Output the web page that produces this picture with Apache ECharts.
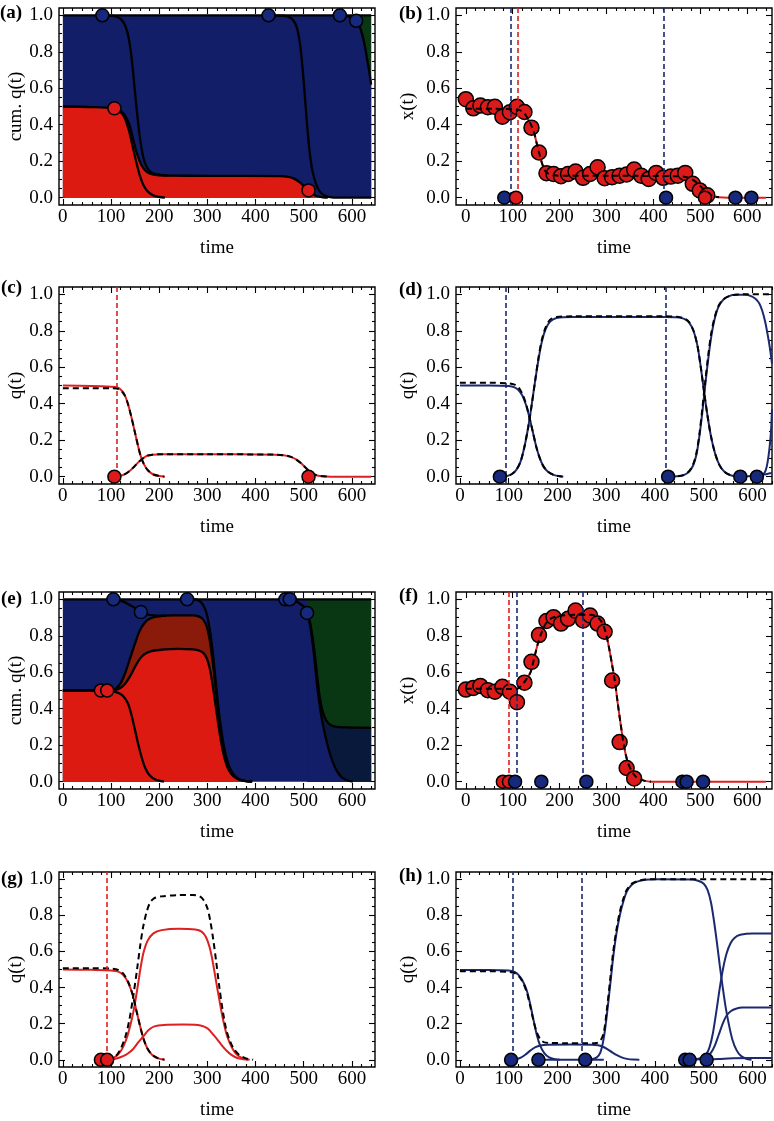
<!DOCTYPE html>
<html><head><meta charset="utf-8">
<script src="https://cdn.jsdelivr.net/npm/echarts@6/dist/echarts.min.js"></script>
<style>html,body{margin:0;padding:0;background:#fff}#c{width:774px;height:1121px}</style>
</head><body><div id="c"></div><script>
// ---------------- tick labels ----------------
const xTicks = [0,100,200,300,400,500,600];
const xMinor = [20,40,60,80,120,140,160,180,220,240,260,280,320,340,360,380,420,440,460,480,520,540,560,580,620,640];
const yTicks = [0,0.2,0.4,0.6,0.8,1.0];
const yMinor = [0.05,0.1,0.15,0.25,0.3,0.35,0.45,0.5,0.55,0.65,0.7,0.75,0.85,0.9,0.95];

// ---------------- scenario 1 (a-d) ----------------
const aTop = [[0,1],[640,1]];
const aRedTop = [[0,0.5],[60,0.497],[106,0.49],[118,0.478],[128,0.455],[138,0.4],[146,0.32],[154,0.24],[162,0.185],[170,0.152],[180,0.133],[195,0.124],[220,0.121],[300,0.12],[450,0.118],[468,0.114],[482,0.102],[492,0.084],[501,0.062],[510,0.04],[519,0.02],[528,0.008],[540,0.002],[550,0]];
const aR1 = [[106,0.49],[118,0.475],[128,0.44],[137,0.37],[145,0.28],[152,0.2],[160,0.12],[168,0.065],[177,0.032],[190,0.01],[212,0]];
const aB1 = [[82,1],[100,0.998],[112,0.992],[122,0.975],[130,0.94],[137,0.87],[143,0.76],[149,0.6],[155,0.44],[161,0.31],[168,0.21],[176,0.16],[186,0.135],[200,0.126],[220,0.122]];
const aB3 = [[427,1],[455,0.998],[470,0.99],[479,0.97],[486,0.93],[492,0.85],[497,0.73],[502,0.57],[507,0.4],[512,0.26],[518,0.15],[525,0.08],[533,0.035],[543,0.012],[555,0.003],[570,0],[640,0]];
const aB4 = [[575,1],[590,0.995],[600,0.986],[609,0.97],[616,0.94],[622,0.89],[627,0.83],[631,0.77],[635,0.71],[640,0.62]];
const aGreenTop = [[614,1],[640,1]];
const aBlueDots = [[82,1],[427,1],[575,1],[609,0.97]];
const aRedDots = [[107,0.49],[510,0.04]];

const bTimes = [0,16,31,47,62,78,94,109,125,140,156,172,187,203,218,234,250,265,281,296,312,328,343,359,374,390,406,421,437,452,468,484,499,515];
const bValues = [0.54,0.49,0.505,0.496,0.498,0.444,0.469,0.498,0.47,0.384,0.248,0.134,0.13,0.118,0.13,0.143,0.109,0.13,0.167,0.107,0.112,0.121,0.127,0.154,0.121,0.103,0.136,0.109,0.116,0.121,0.136,0.076,0.04,0.013];
const bMean = [[0,0.487],[60,0.487],[100,0.485],[115,0.48],[125,0.462],[134,0.425],[144,0.37],[151,0.3],[158,0.23],[165,0.17],[172,0.138],[188,0.123],[220,0.12],[300,0.12],[450,0.118],[468,0.114],[482,0.102],[492,0.084],[501,0.062],[510,0.04],[519,0.02],[528,0.008],[540,0.002]];
const bRedTail = [[560,0],[640,0]];
const bBlueV = [95,423];
const bRedV = [111];
const bBlueDots = [[82,0],[427,0],[575,0],[609,0]];
const bRedDots = [[107,0],[510,0]];

const cR1 = [[0,0.5],[60,0.497],[100,0.493],[112,0.49],[120,0.478],[128,0.45],[135,0.4],[142,0.33],[149,0.25],[156,0.17],[162,0.11],[169,0.065],[177,0.034],[188,0.012],[200,0.004],[212,0]];
const cR1d = [[0,0.485],[60,0.485],[100,0.485],[112,0.483],[120,0.474],[128,0.448],[135,0.4],[142,0.33],[149,0.25],[156,0.17],[162,0.11],[169,0.065],[177,0.034],[188,0.012],[200,0.004],[210,0.001]];
const cR2 = [[107,0],[118,0.004],[128,0.013],[138,0.03],[148,0.055],[157,0.08],[166,0.1],[175,0.115],[186,0.121],[205,0.123],[300,0.123],[440,0.121],[458,0.118],[472,0.11],[484,0.095],[494,0.075],[503,0.052],[511,0.032],[519,0.017],[528,0.007],[540,0.002],[555,0],[640,0]];
const cR2d = [[107,0],[118,0.004],[128,0.013],[138,0.03],[148,0.055],[157,0.08],[166,0.1],[175,0.115],[186,0.121],[205,0.123],[300,0.123],[440,0.121],[458,0.118],[472,0.11],[484,0.095],[494,0.075],[503,0.052],[511,0.032],[519,0.017],[528,0.007],[540,0.002],[555,0]];
const cRedV = [111];
const cRedDots = [[107,0],[510,0]];

const dB0 = [[0,0.5],[60,0.5],[100,0.497],[112,0.49],[120,0.475],[128,0.445],[136,0.39],[143,0.32],[150,0.24],[157,0.16],[164,0.1],[171,0.058],[180,0.028],[192,0.01],[212,0]];
const dB0d = [[0,0.515],[60,0.515],[100,0.512],[112,0.505],[120,0.49],[128,0.455],[136,0.395],[143,0.32],[150,0.24],[157,0.16],[164,0.1],[171,0.058],[180,0.028],[192,0.01],[210,0.001]];
const dB1 = [[82,0],[95,0.003],[105,0.012],[115,0.035],[124,0.08],[132,0.16],[140,0.27],[147,0.39],[154,0.52],[161,0.64],[168,0.74],[176,0.81],[185,0.85],[198,0.87],[230,0.876],[420,0.876],[445,0.874],[460,0.865],[470,0.845],[479,0.8],[487,0.72],[494,0.6],[501,0.46],[508,0.33],[515,0.22],[523,0.13],[532,0.065],[542,0.028],[555,0.008],[570,0.001]];
const dB1d = [[82,0],[95,0.003],[105,0.012],[115,0.035],[124,0.08],[132,0.16],[140,0.27],[147,0.39],[154,0.52],[161,0.65],[168,0.75],[176,0.82],[185,0.86],[198,0.875],[230,0.879],[420,0.879],[445,0.877],[460,0.868],[470,0.848],[479,0.8],[487,0.72],[494,0.6],[501,0.46],[508,0.33],[515,0.22],[523,0.13],[532,0.065],[542,0.028],[555,0.008],[570,0.001]];
const dB3 = [[427,0],[445,0.002],[460,0.01],[470,0.028],[478,0.06],[485,0.12],[491,0.22],[497,0.35],[503,0.5],[509,0.64],[515,0.76],[522,0.86],[530,0.93],[540,0.97],[552,0.99],[565,0.997],[585,0.997],[597,0.99],[606,0.975],[614,0.95],[620,0.91],[626,0.85],[631,0.78],[636,0.7],[640,0.62]];
const dB3d = [[427,0],[445,0.002],[460,0.01],[470,0.03],[478,0.065],[485,0.13],[491,0.23],[497,0.37],[503,0.52],[509,0.66],[515,0.78],[522,0.87],[530,0.935],[540,0.972],[552,0.99],[565,0.998],[590,1],[640,1]];
const dB4 = [[575,0],[590,0.002],[605,0.005],[620,0.01],[640,0.02]];
const dB5 = [[609,0],[616,0.004],[622,0.012],[627,0.035],[631,0.08],[635,0.16],[638,0.25],[640,0.37]];
const dBlueV = [95,423];
const dBlueDots = [[82,0],[427,0],[575,0],[609,0]];

// ---------------- scenario 2 (e-h) ----------------
const eTop = [[0,1],[640,1]];
const eR1 = [[0,0.5],[60,0.498],[100,0.495],[115,0.487],[125,0.47],[135,0.43],[143,0.36],[150,0.28],[157,0.2],[164,0.13],[171,0.075],[180,0.035],[192,0.012],[210,0]];
const eCum2 = [[0,0.5],[100,0.5],[110,0.503],[120,0.515],[130,0.54],[140,0.58],[150,0.63],[160,0.675],[170,0.7],[182,0.715],[200,0.722],[240,0.728],[270,0.725],[284,0.718],[292,0.705],[299,0.675],[305,0.62],[311,0.53],[317,0.42],[323,0.31],[329,0.21],[336,0.125],[344,0.065],[354,0.03],[366,0.011],[380,0.003],[393,0]];
const eCum3 = [[0,0.5],[100,0.5],[110,0.51],[120,0.54],[130,0.6],[140,0.68],[150,0.76],[160,0.83],[170,0.872],[180,0.893],[195,0.905],[230,0.912],[270,0.912],[283,0.905],[291,0.89],[298,0.855],[304,0.79],[310,0.68],[316,0.54],[322,0.4],[328,0.28],[335,0.17],[343,0.09],[352,0.042],[364,0.015],[378,0.004],[393,0]];
const eB1 = [[105,1],[115,0.996],[125,0.987],[135,0.975],[145,0.96],[155,0.945],[162,0.932],[170,0.922],[180,0.915],[195,0.911],[215,0.911]];
const eM259 = [[258,1],[276,0.999],[284,0.99],[291,0.97],[297,0.935],[302,0.88],[307,0.8],[312,0.69],[317,0.56],[322,0.43],[328,0.3],[335,0.185],[343,0.1],[352,0.048],[364,0.017],[378,0.005],[393,0]];
const eU = [[462,1],[478,0.995],[490,0.98],[500,0.96],[507,0.925],[513,0.875],[518,0.8],[523,0.7],[528,0.58],[533,0.47],[539,0.39],[546,0.34],[555,0.312],[568,0.3],[600,0.297],[640,0.295]];
const eL = [[507,0.925],[512,0.875],[517,0.79],[522,0.68],[527,0.55],[532,0.44],[538,0.34],[545,0.25],[552,0.175],[560,0.11],[569,0.058],[579,0.024],[590,0.008],[602,0]];
const eGreenTop = [[507,1],[640,1]];
const eRedDots = [[79,0.5],[92,0.5]];
const eBlueDots = [[105,1],[162,0.93],[258,1],[462,1],[471,1],[507,0.925]];

const fTimes = [0,16,31,47,62,78,94,109,125,140,156,172,187,203,218,234,250,265,281,296,312,328,343,359];
const fValues = [0.505,0.514,0.525,0.502,0.493,0.52,0.493,0.436,0.543,0.657,0.804,0.881,0.902,0.867,0.893,0.938,0.884,0.911,0.867,0.822,0.555,0.217,0.075,0.018];
const fMean = [[0,0.51],[60,0.51],[100,0.508],[110,0.51],[120,0.53],[130,0.565],[138,0.6],[146,0.68],[154,0.76],[162,0.82],[170,0.865],[180,0.892],[195,0.907],[230,0.915],[265,0.915],[280,0.905],[290,0.875],[298,0.82],[305,0.74],[312,0.64],[318,0.55],[324,0.43],[330,0.32],[337,0.2],[345,0.11],[355,0.052],[366,0.02],[380,0.006],[395,0]];
const fRedTail = [[420,0],[640,0]];
const fRedV = [91];
const fBlueV = [108,250];
const fRedDots = [[79,0],[92,0]];
const fBlueDots = [[105,0],[161,0],[257,0],[462,0],[471,0],[506,0]];

const gR1 = [[0,0.5],[60,0.498],[100,0.495],[115,0.488],[125,0.47],[135,0.43],[145,0.36],[152,0.28],[160,0.19],[167,0.12],[175,0.065],[185,0.028],[198,0.008],[212,0]];
const gD1 = [[0,0.507],[60,0.507],[100,0.505],[115,0.497],[125,0.478],[135,0.435],[145,0.36],[152,0.28],[160,0.19],[167,0.12],[175,0.065],[185,0.028],[198,0.008],[210,0.001]];
const gD2 = [[92,0],[100,0.005],[110,0.02],[120,0.06],[130,0.13],[138,0.22],[146,0.35],[154,0.5],[161,0.64],[167,0.74],[174,0.82],[181,0.87],[190,0.895],[205,0.905],[240,0.912],[270,0.913],[284,0.905],[292,0.885],[300,0.84],[306,0.77],[312,0.67],[318,0.55],[325,0.4],[332,0.27],[339,0.17],[346,0.11],[355,0.06],[367,0.025],[380,0.008],[395,0]];
const gR2 = [[79,0],[95,0.003],[105,0.01],[115,0.03],[125,0.07],[135,0.14],[146,0.26],[155,0.4],[162,0.52],[168,0.6],[176,0.66],[188,0.7],[205,0.718],[240,0.726],[275,0.722],[288,0.71],[297,0.68],[305,0.62],[312,0.53],[319,0.42],[325,0.33],[332,0.23],[340,0.14],[347,0.09],[356,0.045],[366,0.018],[378,0.005],[388,0]];
const gR3 = [[92,0],[105,0.003],[115,0.01],[125,0.02],[135,0.035],[146,0.06],[156,0.095],[167,0.13],[178,0.165],[190,0.185],[210,0.193],[250,0.195],[280,0.193],[292,0.185],[302,0.17],[312,0.14],[320,0.115],[330,0.08],[340,0.05],[350,0.027],[362,0.01],[375,0.003],[385,0]];
const gRedV = [91];
const gRedDots = [[79,0],[92,0]];

const hB0 = [[0,0.497],[60,0.497],[100,0.494],[112,0.486],[120,0.47],[128,0.44],[137,0.385],[144,0.31],[151,0.22],[158,0.135],[165,0.075],[173,0.037],[183,0.013],[195,0.003],[205,0]];
const hTotal = [[0,0.49],[60,0.49],[100,0.487],[112,0.48],[120,0.465],[128,0.435],[137,0.375],[144,0.3],[151,0.215],[158,0.15],[165,0.113],[172,0.098],[185,0.093],[220,0.092],[260,0.091],[280,0.093],[288,0.105],[295,0.15],[301,0.27],[308,0.44],[314,0.59],[321,0.72],[328,0.82],[335,0.89],[342,0.94],[352,0.975],[365,0.99],[380,0.998],[420,1],[640,1]];
const hM105 = [[105,0],[115,0.003],[125,0.012],[135,0.03],[145,0.052],[155,0.07],[165,0.079],[180,0.083],[230,0.084],[270,0.083],[283,0.08],[293,0.072],[303,0.058],[313,0.04],[323,0.024],[333,0.012],[343,0.005],[355,0.001],[368,0]];
const hM161 = [[161,0],[295,0]];
const hM259 = [[257,0],[270,0.003],[280,0.012],[288,0.04],[295,0.12],[301,0.24],[308,0.41],[314,0.56],[321,0.7],[328,0.8],[335,0.875],[342,0.93],[352,0.968],[365,0.988],[380,0.997],[400,1],[478,0.999],[490,0.99],[500,0.975],[508,0.94],[515,0.87],[521,0.77],[527,0.65],[533,0.52],[539,0.4],[545,0.29],[552,0.19],[559,0.11],[567,0.055],[576,0.022],[586,0.007],[598,0]];
const hM462 = [[462,0],[480,0.002],[495,0.01],[505,0.03],[512,0.07],[519,0.15],[526,0.27],[533,0.4],[540,0.51],[547,0.59],[555,0.645],[563,0.675],[575,0.692],[600,0.7],[640,0.7]];
const hM471 = [[471,0],[490,0.003],[505,0.015],[515,0.04],[523,0.08],[531,0.14],[539,0.2],[547,0.245],[556,0.27],[566,0.283],[580,0.289],[640,0.29]];
const hM506 = [[506,0],[530,0.004],[560,0.008],[600,0.01],[640,0.01]];
const hBlueV = [108,250];
const hBlueDots = [[105,0],[161,0],[257,0],[462,0],[471,0],[506,0]];

// ---------------- layout & style ----------------
const FONT = "'Liberation Serif','Times New Roman',serif";
const RED = '#dc1a12', RED_LINE = '#dd2020', NAVY = '#121e68', NAVY_LINE = '#1b2a70';
const GREEN = '#0a3713', DARKRED = '#8a1b0b', DARKNAVY = '#08193b';
const DOT_BLUE = '#16297c', DOT_RED = '#dd1a1a';
const Y_MIN = -0.04, Y_MAX = 1.04;
const LAYOUT = {
  a:{left:59, top:8,   xMin:-8,  xMax:648, yName:'cum. q(t)', gapY:32, lx:0,   ly:4},
  b:{left:456,top:8,   xMin:-21, xMax:653, yName:'x(t)',      gapY:38, lx:399, ly:5},
  c:{left:59, top:287, xMin:-8,  xMax:648, yName:'q(t)',      gapY:33, lx:1,   ly:279},
  d:{left:456,top:287, xMin:-8,  xMax:640, yName:'q(t)',      gapY:38, lx:399, ly:281},
  e:{left:59, top:592, xMin:-8,  xMax:648, yName:'cum. q(t)', gapY:33, lx:1,   ly:590},
  f:{left:456,top:592, xMin:-21, xMax:653, yName:'x(t)',      gapY:38, lx:399, ly:587},
  g:{left:59, top:872, xMin:-8,  xMax:648, yName:'q(t)',      gapY:33, lx:1,   ly:870},
  h:{left:456,top:872, xMin:-8,  xMax:640, yName:'q(t)',      gapY:38, lx:399, ly:867}
};
const W = 316, H = 197;
const KEYS = ['a','b','c','d','e','f','g','h'];

const option = {animation:false, backgroundColor:'#fff', grid:[], xAxis:[], yAxis:[], series:[], graphic:[]};
const txt = {fontFamily:FONT, fontSize:19, color:'#000'};
const tickLine = {color:'#000', width:1.1};

KEYS.forEach((k, gi) => {
  const p = LAYOUT[k];
  option.grid.push({left:p.left, top:p.top, width:W, height:H, show:true, borderColor:'#000', borderWidth:1.4, backgroundColor:'transparent'});
  const bx = {gridIndex:gi, type:'value', min:p.xMin, max:p.xMax, splitLine:{show:false}, axisLine:{show:false, onZero:false}};
  const by = {gridIndex:gi, type:'value', min:Y_MIN, max:Y_MAX, splitLine:{show:false}, axisLine:{show:false, onZero:false}};
  option.xAxis.push(
    Object.assign({}, bx, {position:'bottom', axisTick:{show:true, inside:true, length:6, lineStyle:tickLine, customValues:xTicks},
      axisLabel:Object.assign({show:true, customValues:xTicks, margin:3}, txt),
      name:'time', nameLocation:'middle', nameGap:34, nameTextStyle:txt}),
    Object.assign({}, bx, {position:'bottom', axisTick:{show:true, inside:true, length:3, lineStyle:tickLine, customValues:xMinor}, axisLabel:{show:false}}),
    Object.assign({}, bx, {position:'top', axisTick:{show:true, inside:true, length:6, lineStyle:tickLine, customValues:xTicks}, axisLabel:{show:false}}),
    Object.assign({}, bx, {position:'top', axisTick:{show:true, inside:true, length:3, lineStyle:tickLine, customValues:xMinor}, axisLabel:{show:false}})
  );
  option.yAxis.push(
    Object.assign({}, by, {position:'left', axisTick:{show:true, inside:true, length:6, lineStyle:tickLine, customValues:yTicks},
      axisLabel:Object.assign({show:true, customValues:yTicks, margin:6, formatter:v => Number(v).toFixed(1)}, txt),
      name:p.yName, nameLocation:'middle', nameGap:p.gapY, nameRotate:90, nameTextStyle:txt}),
    Object.assign({}, by, {position:'left', axisTick:{show:true, inside:true, length:3, lineStyle:tickLine, customValues:yMinor}, axisLabel:{show:false}}),
    Object.assign({}, by, {position:'right', axisTick:{show:true, inside:true, length:6, lineStyle:tickLine, customValues:yTicks}, axisLabel:{show:false}}),
    Object.assign({}, by, {position:'right', axisTick:{show:true, inside:true, length:3, lineStyle:tickLine, customValues:yMinor}, axisLabel:{show:false}})
  );
  option.graphic.push({type:'text', left:p.lx, top:p.ly, silent:true,
    style:{text:'(' + k + ')', font:"bold 19px 'Liberation Serif', serif", fill:'#000'}});
});

const G = {}; KEYS.forEach((k, i) => G[k] = i);
function ax(k){ return {xAxisIndex:G[k]*4, yAxisIndex:G[k]*4}; }
const SM = 0.3;
function area(k, data, color){
  option.series.push(Object.assign({type:'line', data, smooth:SM, symbol:'none', silent:true,
    lineStyle:{width:0}, areaStyle:{color, opacity:1}, z:1}, ax(k)));
}
function line(k, data, color, width, dashed, z){
  option.series.push(Object.assign({type:'line', data, smooth:SM, symbol:'none', silent:true,
    lineStyle:{color, width, type: dashed ? [6,4] : 'solid'}, z:z}, ax(k)));
}
function dots(k, data, color, size, z){
  option.series.push(Object.assign({type:'scatter', data, symbolSize:size, silent:true,
    itemStyle:{color, borderColor:'#000', borderWidth:1.5, opacity:1}, z:z}, ax(k)));
}
function vlines(k, ts, color){
  option.series.push(Object.assign({type:'line', data:[], silent:true, z:3,
    markLine:{silent:true, symbol:['none','none'], label:{show:false}, animation:false,
      lineStyle:{color, width:1.6, type:[5,3]}, data: ts.map(t => ({xAxis:t}))}}, ax(k)));
}
function pairs(ts, vs){ return ts.map((t, i) => [t, vs[i]]); }

// (a)
area('a', aTop, NAVY);
area('a', aGreenTop, GREEN);
area('a', aB4, NAVY);
area('a', aRedTop, RED);
[aTop, aRedTop, aR1, aB1, aB3, aB4].forEach(d => line('a', d, '#000', 2.3, false, 3));
dots('a', aBlueDots, DOT_BLUE, 13, 6);
dots('a', aRedDots, DOT_RED, 13, 6);

// (b)
vlines('b', bBlueV, NAVY_LINE);
vlines('b', bRedV, RED_LINE);
line('b', bMean.concat(bRedTail), RED_LINE, 2, false, 2);
dots('b', pairs(bTimes, bValues), DOT_RED, 15, 4);
line('b', bMean, '#000', 2, true, 5);
dots('b', bBlueDots, DOT_BLUE, 13, 6);
dots('b', bRedDots, DOT_RED, 13, 6);

// (c)
vlines('c', cRedV, RED_LINE);
line('c', cR1, RED_LINE, 2, false, 2);
line('c', cR2, RED_LINE, 2, false, 2);
line('c', cR1d, '#000', 2, true, 4);
line('c', cR2d, '#000', 2, true, 4);
dots('c', cRedDots, DOT_RED, 13, 6);

// (d)
vlines('d', dBlueV, NAVY_LINE);
[dB0, dB1, dB3, dB4, dB5].forEach(d => line('d', d, NAVY_LINE, 2, false, 2));
[dB0d, dB1d, dB3d].forEach(d => line('d', d, '#000', 2, true, 4));
dots('d', dBlueDots, DOT_BLUE, 13, 6);

// (e)
area('e', eTop, NAVY);
area('e', eGreenTop, GREEN);
area('e', eU.filter(p => p[0] >= 507), DARKNAVY);
area('e', eL, NAVY);
area('e', eCum3, DARKRED);
area('e', eCum2, RED);
[eTop, eR1, eCum2, eCum3, eB1, eM259, eU, eL].forEach(d => line('e', d, '#000', 2.3, false, 3));
dots('e', eBlueDots, DOT_BLUE, 13, 6);
dots('e', eRedDots, DOT_RED, 13, 6);

// (f)
vlines('f', fRedV, RED_LINE);
vlines('f', fBlueV, NAVY_LINE);
line('f', fMean.concat(fRedTail), RED_LINE, 2, false, 2);
dots('f', pairs(fTimes, fValues), DOT_RED, 15, 4);
line('f', fMean, '#000', 2, true, 5);
dots('f', fRedDots, DOT_RED, 13, 6);
dots('f', fBlueDots, DOT_BLUE, 13, 6);

// (g)
vlines('g', gRedV, RED_LINE);
[gR1, gR2, gR3].forEach(d => line('g', d, RED_LINE, 2, false, 2));
[gD1, gD2].forEach(d => line('g', d, '#000', 2, true, 4));
dots('g', gRedDots, DOT_RED, 13, 6);

// (h)
vlines('h', hBlueV, NAVY_LINE);
[hB0, hM105, hM161, hM259, hM462, hM471, hM506].forEach(d => line('h', d, NAVY_LINE, 2, false, 2));
line('h', hTotal, '#000', 2, true, 4);
dots('h', hBlueDots, DOT_BLUE, 13, 6);

const chart = echarts.init(document.getElementById('c'), null, {renderer:'canvas'});
chart.setOption(option);
</script></body></html>
